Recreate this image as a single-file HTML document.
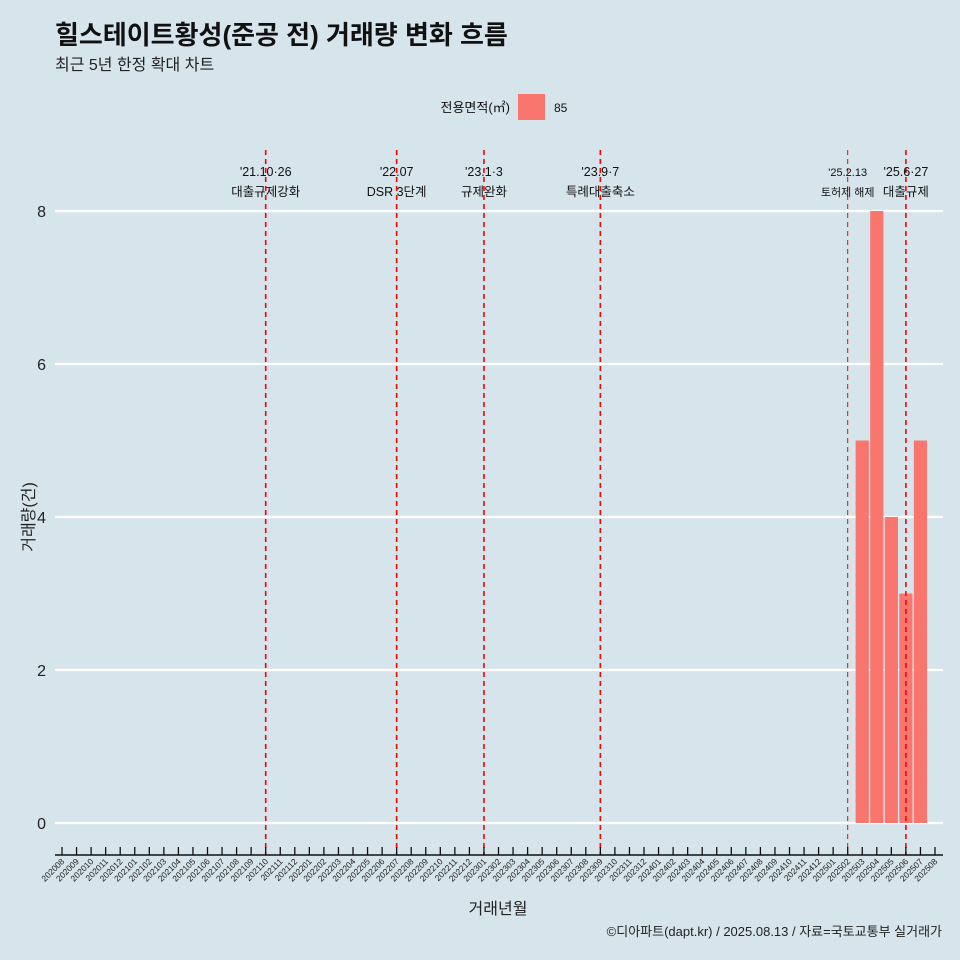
<!DOCTYPE html>
<html><head><meta charset="utf-8">
<style>
body{margin:0;background:#d6e4eb;}
svg{display:block;font-family:"Liberation Sans","Noto Sans CJK KR",sans-serif;}
</style></head>
<body>
<svg id="chart" width="960" height="960" viewBox="0 0 960 960">
<rect width="960" height="960" fill="#d6e4eb"/>
<text x="55" y="44" font-size="26" font-weight="bold" fill="#111">힐스테이트황성(준공 전) 거래량 변화 흐름</text>
<text x="55" y="70" font-size="16" fill="#222">최근 5년 한정 확대 차트</text>
<g>
<text x="510" y="112" font-size="13" text-anchor="end" fill="#111">전용면적(㎡)</text>
<rect x="518" y="94" width="27" height="26" fill="#f8766d"/>
<text x="554" y="112" font-size="12" fill="#111">85</text>
</g>
<g id="grid"></g><g id="bars"></g><g id="events"></g><g id="xaxis"></g><g id="yaxis"></g>
<text x="498" y="914" font-size="16" text-anchor="middle" fill="#222">거래년월</text>
<text transform="translate(34,517) rotate(-90)" font-size="16" text-anchor="middle" fill="#222">거래량(건)</text>
<text x="942" y="936" font-size="13" text-anchor="end" fill="#222">©디아파트(dapt.kr) / 2025.08.13 / 자료=국토교통부 실거래가</text>
</svg>
<script>
const barMonths=["202503","202504","202505","202506","202507"];
const barValues=[5,8,4,3,5];
const yTicks=[0,2,4,6,8];
const eventMonths=["202110","202207","202301","202309","202502","202506"];
const eventLine1=["'21.10·26","'22.07","'23.1·3","'23.9·7","'25.2.13","'25.6·27"];
const eventLine2=["대출규제강화","DSR 3단계","규제완화","특례대출축소","토허제 해제","대출규제"];
const eventThin=[false,false,false,false,true,false];

const months=[];
for(let y=2020;y<=2025;y++)for(let m=1;m<=12;m++){const s=y+String(m).padStart(2,'0');if(s>="202008"&&s<="202508")months.push(s);}
const X0=62,DX=(935-62)/60;
const x=s=>X0+months.indexOf(s)*DX;
const Y0=823,DY=(823-211)/8;
const y=v=>Y0-v*DY;
const NS="http://www.w3.org/2000/svg";
function mk(t,a,p,txt){const e=document.createElementNS(NS,t);for(const k in a)e.setAttribute(k,a[k]);if(txt!==undefined)e.textContent=txt;p.appendChild(e);return e;}
const G=id=>document.getElementById(id);
yTicks.forEach(v=>{
 const l=mk('line',{x1:55,x2:943,y1:y(v),y2:y(v),stroke:'#fff','stroke-width':2.2},G('grid'));
 
 
 const t=mk('text',{x:46,y:y(v)+6,'font-size':16,'text-anchor':'end',fill:'#222'},G('yaxis'),String(v));
 
 
});
barMonths.forEach((m,i)=>{
 const r=mk('rect',{x:x(m)-6.6,y:y(barValues[i]),width:13.2,height:barValues[i]*DY,fill:'#f8766d'},G('bars'));
 
 
});
eventMonths.forEach((m,i)=>{
 const l=mk('line',{x1:x(m),x2:x(m),y1:150,y2:855,stroke:'#ff0000','stroke-width':eventThin[i]?1:1.6,'stroke-dasharray':'5,4'},G('events'));
 
 
 const fs=eventThin[i]?11:12.5;
 const t1=mk('text',{x:x(m),y:176,'font-size':fs,'text-anchor':'middle',fill:'#111'},G('events'),eventLine1[i]);
 
 
 const t2=mk('text',{x:x(m),y:196,'font-size':fs,'text-anchor':'middle',fill:'#111'},G('events'),eventLine2[i]);
 
 
});
const ax=mk('line',{x1:55,x2:943,y1:855,y2:855,stroke:'#111','stroke-width':1.5},G('xaxis'));


months.forEach(m=>{
 const tk=mk('line',{x1:x(m),x2:x(m),y1:847,y2:855,stroke:'#111','stroke-width':1.3},G('xaxis'));
 
 
 const t=mk('text',{transform:`translate(${x(m)+3},${862}) rotate(-45)`,'font-size':8.5,'text-anchor':'end',fill:'#222'},G('xaxis'),m);
 
 
});
</script>
</body></html>
